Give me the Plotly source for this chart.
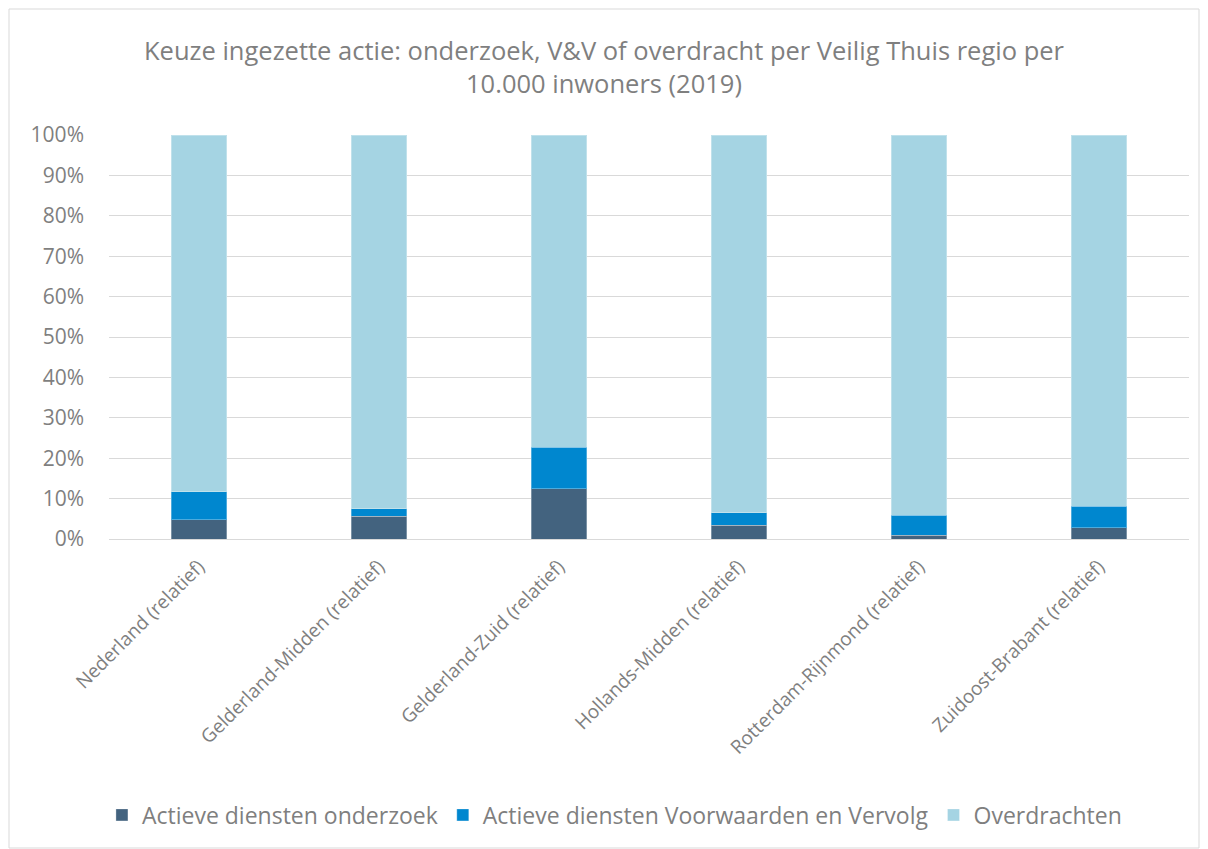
import plotly.graph_objects as go

regions = [
    "Nederland (relatief)",
    "Gelderland-Midden (relatief)",
    "Gelderland-Zuid (relatief)",
    "Hollands-Midden (relatief)",
    "Rotterdam-Rijnmond (relatief)",
    "Zuidoost-Brabant (relatief)",
]
onderzoek = [4.8, 5.6, 12.5, 3.4, 0.9, 2.8]
voorwaarden = [6.9, 1.9, 10.2, 3.1, 5.0, 5.3]
overdrachten = [88.3, 92.5, 77.3, 93.5, 94.1, 91.9]

series = [
    ("Actieve diensten onderzoek", onderzoek, "#43637F"),
    ("Actieve diensten Voorwaarden en Vervolg", voorwaarden, "#0087CF"),
    ("Overdrachten", overdrachten, "#A5D4E3"),
]

text_color = "#7F7F7F"

fig = go.Figure()
for name, vals, color in series:
    fig.add_trace(
        go.Bar(
            x=regions,
            y=vals,
            name=name,
            marker_color=color,
            marker_line=dict(color="rgba(255,255,255,0.3)", width=1),
        )
    )

fig.update_layout(
    barmode="stack",
    barnorm="percent",
    bargap=0.69,
    width=1192,
    height=841,
    paper_bgcolor="white",
    plot_bgcolor="white",
    font=dict(family="Open Sans, sans-serif", color=text_color),
    title=dict(
        text="Keuze ingezette actie: onderzoek, V&V of overdracht per Veilig Thuis regio per<br>10.000 inwoners (2019)",
        x=0.5,
        xanchor="center",
        y=0.938,
        yanchor="top",
        font=dict(size=25.5, color=text_color),
    ),
    margin=dict(l=101, r=11, t=127, b=310),
    legend=dict(
        orientation="h",
        x=0.468,
        xanchor="center",
        y=-0.683,
        yanchor="middle",
        font=dict(size=23, color=text_color),
        traceorder="normal",
    ),
)
fig.update_yaxes(
    range=[0, 100],
    dtick=10,
    ticksuffix="%",
    showgrid=True,
    gridcolor="#D9D9D9",
    gridwidth=1,
    tickfont=dict(size=21, color=text_color),
    zeroline=False,
    ticklen=0,
    ticklabelstandoff=24,
)
fig.update_xaxes(
    tickangle=-45,
    tickfont=dict(size=19, color=text_color),
    showline=True,
    linecolor="#D9D9D9",
    ticklabelstandoff=8,
)
fig.add_shape(
    type="rect",
    xref="paper",
    yref="paper",
    x0=-100 / 1080,
    x1=1 + 10 / 1080,
    y0=-309 / 404,
    y1=1 + 126 / 404,
    line=dict(color="#D9D9D9", width=1),
)

fig.write_html("out.html")
